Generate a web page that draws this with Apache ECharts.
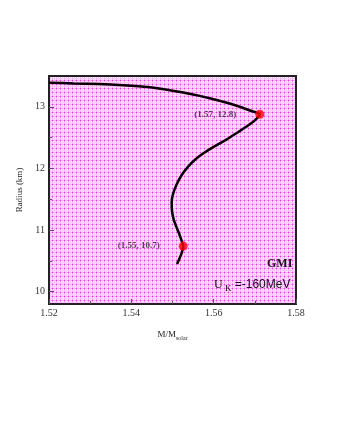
<!DOCTYPE html>
<html>
<head>
<meta charset="utf-8">
<script src="https://cdn.jsdelivr.net/npm/echarts@6/dist/echarts.min.js"></script>
<style>
  html, body { margin: 0; padding: 0; background: #fff; }
  #chart { width: 337px; height: 436px; }
</style>
</head>
<body>
<div id="chart"></div>
<script>
// mass-radius curve (M/Msolar, km)
var mass = [1.5200, 1.5260, 1.5320, 1.5380, 1.5440, 1.5500, 1.5550, 1.5590, 1.5630, 1.5660,
            1.5688, 1.5712, 1.5700, 1.5680, 1.5655, 1.5629, 1.5600, 1.5576, 1.5556, 1.5538,
            1.5522, 1.5510, 1.5501, 1.5498, 1.5499, 1.5503, 1.5509, 1.5515, 1.5521, 1.5526,
            1.5523, 1.5517, 1.5511];
var radius = [13.39, 13.38, 13.37, 13.35, 13.32, 13.26, 13.20, 13.14, 13.07, 13.01,
              12.94, 12.88, 12.78, 12.68, 12.57, 12.46, 12.35, 12.25, 12.15, 12.03,
              11.89, 11.74, 11.58, 11.44, 11.30, 11.17, 11.06, 10.96, 10.85, 10.74,
              10.64, 10.54, 10.45];

// marked points
var pointMass = [1.5712, 1.5526];
var pointRadius = [12.88, 10.74];
var pointLabels = ["(1.57, 12.8)", "(1.55, 10.7)"];

// ticks
var xMajor = [1.52, 1.54, 1.56, 1.58];
var xMinor = [1.53, 1.55, 1.57];
var yMajor = [10, 11, 12, 13];
var yMinor = [10.5, 11.5, 12.5];

// pink dotted background pattern
function makePattern() {
  var c = document.createElement("canvas");
  c.width = 4;
  c.height = 4;
  var ctx = c.getContext("2d");
  ctx.fillStyle = "#fff0ff";
  ctx.fillRect(0, 0, 4, 4);
  ctx.fillStyle = "#f49cf4";
  ctx.fillRect(0, 0, 1, 4);
  ctx.fillRect(0, 0, 4, 1);
  ctx.fillStyle = "#f8ccf8";
  ctx.fillRect(2, 0, 1, 4);
  ctx.fillRect(0, 2, 4, 1);
  ctx.fillStyle = "#e040e0";
  ctx.fillRect(0, 0, 1, 1);
  return c;
}

var serif = "Liberation Serif";
var chart = echarts.init(document.getElementById("chart"));

var curve = mass.map(function (m, i) { return [m, radius[i]]; });
var points = pointMass.map(function (m, i) { return [m, pointRadius[i]]; });

chart.setOption({
  backgroundColor: "#ffffff",
  animation: false,
  title: [
    {
      text: "GMI",
      left: 262,
      top: 253,
      textStyle: { fontFamily: serif, fontWeight: "bold", fontSize: 12, color: "#111" }
    },
    {
      text: "{u|U}{k| K}{t| =-160MeV}",
      left: 209,
      top: 271,
      textStyle: {
        rich: {
          u: { fontFamily: serif, fontSize: 12, fontWeight: "normal", color: "#111" },
          k: { fontFamily: serif, fontSize: 9, fontWeight: "normal", color: "#111", padding: [8, 0, 0, 0] },
          t: { fontFamily: "Liberation Sans", fontSize: 12, fontWeight: "normal", color: "#111" }
        }
      }
    }
  ],
  grid: {
    left: 49,
    right: 41,
    top: 76,
    bottom: 132,
    show: true,
    backgroundColor: { image: makePattern(), repeat: "repeat" },
    borderColor: "#222",
    borderWidth: 2
  },
  xAxis: [
    {
      type: "value",
      min: 1.52,
      max: 1.58,
      name: "M/M{s|solar}",
      nameLocation: "middle",
      nameGap: 25,
      nameTextStyle: {
        fontFamily: serif,
        fontSize: 9,
        color: "#222",
        rich: { s: { fontFamily: serif, fontSize: 6, color: "#222", padding: [6, 0, 0, 0] } }
      },
      axisLine: { show: false },
      splitLine: { show: false },
      axisTick: { inside: true, length: 5, customValues: xMajor, lineStyle: { color: "#555" } },
      axisLabel: {
        customValues: xMajor,
        fontFamily: serif,
        fontSize: 10,
        color: "#333",
        margin: 4,
        formatter: function (v) { return v.toFixed(2); }
      }
    },
    {
      type: "value",
      min: 1.52,
      max: 1.58,
      position: "bottom",
      axisLine: { show: false },
      splitLine: { show: false },
      axisLabel: { show: false },
      axisTick: { inside: true, length: 3, customValues: xMinor, lineStyle: { color: "#555" } }
    }
  ],
  yAxis: [
    {
      type: "value",
      min: 9.8,
      max: 13.5,
      name: "Radius (km)",
      nameLocation: "middle",
      nameGap: 22,
      nameTextStyle: { fontFamily: serif, fontSize: 9, color: "#222" },
      axisLine: { show: false },
      splitLine: { show: false },
      axisTick: { inside: true, length: 5, customValues: yMajor, lineStyle: { color: "#555" } },
      axisLabel: {
        customValues: yMajor,
        fontFamily: serif,
        fontSize: 10,
        color: "#333",
        margin: 4
      }
    },
    {
      type: "value",
      min: 9.8,
      max: 13.5,
      position: "left",
      axisLine: { show: false },
      splitLine: { show: false },
      axisLabel: { show: false },
      axisTick: { inside: true, length: 3, customValues: yMinor, lineStyle: { color: "#555" } }
    }
  ],
  series: [
    {
      type: "line",
      data: curve,
      smooth: 0.25,
      showSymbol: false,
      clip: true,
      z: 2,
      lineStyle: { color: "#000", width: 2.5 }
    },
    {
      type: "scatter",
      data: points,
      symbolSize: 9,
      z: 5,
      itemStyle: { color: "#ff0000" },
      label: {
        show: true,
        position: "left",
        distance: 19,
        fontFamily: serif,
        fontWeight: "bold",
        fontSize: 9,
        color: "#222",
        formatter: function (p) { return pointLabels[p.dataIndex]; }
      }
    }
  ]
});
</script>
</body>
</html>
